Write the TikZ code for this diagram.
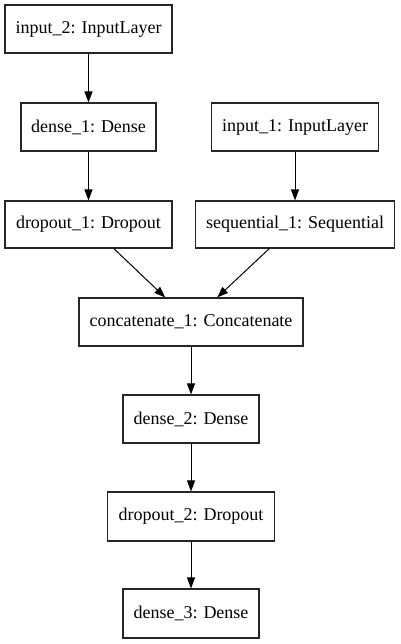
\documentclass[tikz,border=0pt]{standalone}
\usepackage{fontspec}
\setmainfont{Liberation Serif}
\usetikzlibrary{arrows.meta}
\begin{document}
\begin{tikzpicture}[x=1pt,y=-1pt,
  layer/.style={draw=black!85,line width=1.1pt,inner sep=0pt,font=\fontsize{18}{20}\selectfont},
  edge/.style={line width=1pt,-{Triangle[length=11pt,width=8pt]}}]
\useasboundingbox[fill=white] (0,0) rectangle (400,644);
\node[layer,minimum width=167pt,minimum height=48pt] (in2) at (88.5,29) {input\_2: InputLayer};
\node[layer,minimum width=135pt,minimum height=48pt] (d1) at (88.5,127) {dense\_1: Dense};
\node[layer,minimum width=167pt,minimum height=47pt] (do1) at (88.5,224.5) {dropout\_1: Dropout};
\node[layer,minimum width=167pt,minimum height=48pt] (in1) at (295,127) {input\_1: InputLayer};
\node[layer,minimum width=199pt,minimum height=47pt] (seq) at (295,224.5) {sequential\_1: Sequential};
\node[layer,minimum width=224pt,minimum height=48pt] (cat) at (191,322) {concatenate\_1: Concatenate};
\node[layer,minimum width=136pt,minimum height=48pt] (d2) at (191,419) {dense\_2: Dense};
\node[layer,minimum width=167pt,minimum height=49pt] (do2) at (191,516.5) {dropout\_2: Dropout};
\node[layer,minimum width=136pt,minimum height=49pt] (d3) at (191,613.5) {dense\_3: Dense};
\draw[edge] (in2) -- (d1);
\draw[edge] (d1) -- (do1);
\draw[edge] (in1) -- (seq);
\draw[edge] (do1) -- (cat);
\draw[edge] (seq) -- (cat);
\draw[edge] (cat) -- (d2);
\draw[edge] (d2) -- (do2);
\draw[edge] (do2) -- (d3);
\end{tikzpicture}
\end{document}
